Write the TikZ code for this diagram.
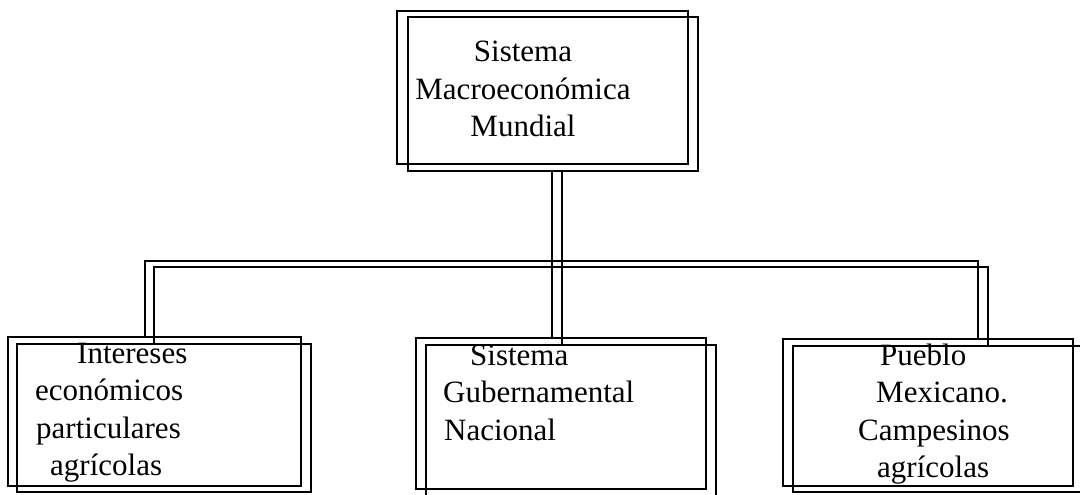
\documentclass[tikz,border=0pt]{standalone}
\usepackage{fontspec}
\setmainfont{Liberation Serif}
\begin{document}
\begin{tikzpicture}[x=1pt,y=-1pt,
  frame/.style={draw=black,line width=1.6pt,rectangle,inner sep=0pt},
  link/.style={draw=black,line width=1.6pt},
  label/.style={inner sep=0pt,font=\fontsize{31}{37.5}\selectfont}]
\clip (0,0) rectangle (1080,495);
\fill[white] (0,0) rectangle (1080,495);
% top box
\node[frame,minimum width=291pt,minimum height=153pt] (top1) at (542.5,87.5) {};
\node[frame,minimum width=290pt,minimum height=154pt] (top2) at (553,94) {};
% bottom boxes
\node[frame,minimum width=293pt,minimum height=149pt] (L1) at (154.5,411.5) {};
\node[frame,minimum width=294pt,minimum height=148pt] (L2) at (164,418) {};
\node[frame,minimum width=290pt,minimum height=151pt] (M1) at (561,413.5) {};
\node[frame,minimum width=290pt,minimum height=151pt] (M2) at (571,420.5) {};
\node[frame,minimum width=290pt,minimum height=147pt] (R1) at (928,412.5) {};
\node[frame,minimum width=290pt,minimum height=146pt] (R2) at (938,419) {};
% guide coordinates
\coordinate (va) at (552,0);
\coordinate (vb) at (562,0);
\coordinate (la) at (145,261);
\coordinate (lb) at (154,267);
\coordinate (ra) at (978,261);
\coordinate (rb) at (988,267);
% connectors
\draw[link] (top2.south -| va) -- (M1.north -| va);
\draw[link] (top2.south -| vb) -- (M2.north -| vb);
\draw[link] (L1.north -| la) -- (la) -- (ra) -- (R1.north -| ra);
\draw[link] (L2.north -| lb) -- (lb) -- (rb) -- (R2.north -| rb);
% texts
\node[label,anchor=base] (ttop) at (523,62)
  {\begin{tabular}[t]{@{}c@{}}Sistema\\Macroeconómica\\Mundial\end{tabular}};
\node[label,anchor=base west] (tleft) at (35,363)
  {\begin{tabular}[t]{@{}l@{}}\hspace*{42pt}Intereses\\económicos\\\hspace*{1pt}particulares\\\hspace*{15pt}agrícolas\end{tabular}};
\node[label,anchor=base west] (tmid) at (443,365)
  {\begin{tabular}[t]{@{}l@{}}\hspace*{27pt}Sistema\\Gubernamental\\\hspace*{1pt}Nacional\end{tabular}};
\node[label,anchor=base west] (tright) at (858,365)
  {\begin{tabular}[t]{@{}l@{}}\hspace*{22pt}Pueblo\\\hspace*{18pt}Mexicano.\\Campesinos\\\hspace*{19pt}agrícolas\end{tabular}};
\end{tikzpicture}
\end{document}
